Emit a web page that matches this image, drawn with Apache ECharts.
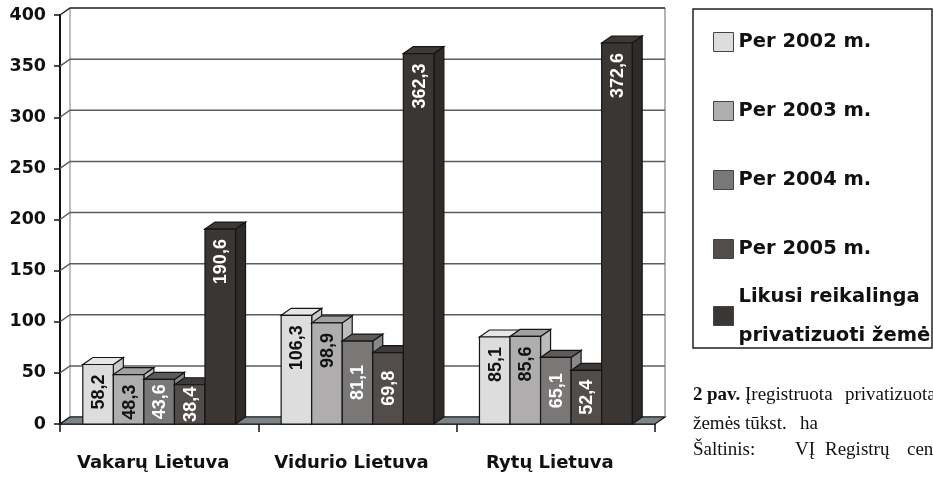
<!DOCTYPE html>
<html><head><meta charset="utf-8">
<script src="https://cdn.jsdelivr.net/npm/echarts@6.0.0/dist/echarts.min.js"></script>
<style>html,body{margin:0;padding:0;background:#fff}#c{width:933px;height:478px}</style>
</head><body><div id="c"></div>
<script>
const categories = ['Vakarų Lietuva', 'Vidurio Lietuva', 'Rytų Lietuva'];
const seriesNames = ['Per 2002 m.', 'Per 2003 m.', 'Per 2004 m.', 'Per 2005 m.', 'Likusi reikalinga\nprivatizuoti žemė'];
const per2002 = [58.2, 106.3, 85.1];
const per2003 = [48.3, 98.9, 85.6];
const per2004 = [43.6, 81.1, 65.1];
const per2005 = [38.4, 69.8, 52.4];
const likusi = [190.6, 362.3, 372.6];
const yTicks = [0, 50, 100, 150, 200, 250, 300, 350, 400];

const seriesValues = [per2002, per2003, per2004, per2005, likusi];
const DX = 10, DY = -7, CAT_GAP = 0.23;
const palette = [
  {front: '#dddddd', top: '#e6e6e6', side: '#c9c9c9', text: '#111111', mode: 'end'},
  {front: '#afadad', top: '#a2a0a0', side: '#bdbbbb', text: '#111111', mode: 'end'},
  {front: '#7a7777', top: '#5d5a5a', side: '#8a8787', text: '#ffffff', mode: 'center'},
  {front: '#524c4a', top: '#3e3a38', side: '#5e5856', text: '#ffffff', mode: 'center'},
  {front: '#3a3633', top: '#3d3936', side: '#2e2b29', text: '#ffffff', mode: 'end'}
];
const STROKE = '#151515';

function barRender(s) {
  const c = palette[s];
  return function (params, api) {
    const cat = api.value(0), v = api.value(1);
    const p = api.coord([cat, v]);
    const p0 = api.coord([cat, 0]);
    const band = api.size([1, 0])[0];
    const groupW = band * (1 - CAT_GAP);
    const w = groupW / seriesValues.length;
    const x = p[0] - groupW / 2 + s * w;
    const top = p[1], bot = p0[1];
    const txt = String(v).replace('.', ',');
    let ty, align;
    if (c.mode === 'end') { ty = top + 10; align = 'right'; }
    else { ty = (top + bot) / 2; align = 'center'; }
    return {
      type: 'group',
      children: [
        {type: 'polygon', shape: {points: [[x + w, top], [x + w + DX, top + DY], [x + w + DX, bot + DY], [x + w, bot]]},
          style: {fill: c.side, stroke: STROKE, lineWidth: 1.2}},
        {type: 'polygon', shape: {points: [[x, top], [x + DX, top + DY], [x + w + DX, top + DY], [x + w, top]]},
          style: {fill: c.top, stroke: STROKE, lineWidth: 1.2}},
        {type: 'rect', shape: {x: x, y: top, width: w, height: bot - top},
          style: {fill: c.front, stroke: STROKE, lineWidth: 1.2}},
        {type: 'text', x: x + w / 2 + 1, y: ty, rotation: Math.PI / 2,
          style: {text: txt, fill: c.text, font: 'bold 18px "Liberation Sans", Arial, sans-serif',
            align: align, verticalAlign: 'middle'}}
      ]
    };
  };
}

const series = [];
series.push({
  type: 'custom', name: 'walls', silent: true, z: 1,
  data: yTicks.map(v => [0, v]),
  renderItem: function (params, api) {
    const cs = params.coordSys;
    const v = api.value(1);
    const y = api.coord([0, v])[1];
    const x0 = cs.x, x1 = cs.x + cs.width;
    const children = [{type: 'polyline', shape: {points: [[x0, y], [x0 + DX, y + DY], [x1 + DX, y + DY]]},
      style: {stroke: v === yTicks[yTicks.length - 1] ? '#222222' : '#5c5c5c', lineWidth: 1.5, fill: null}}];
    if (params.dataIndex === 0) {
      const yt = api.coord([0, yTicks[yTicks.length - 1]])[1];
      children.push({type: 'line', shape: {x1: x0 + DX, y1: yt + DY, x2: x0 + DX, y2: y + DY}, style: {stroke: '#a9a9a9', lineWidth: 1.5}});
      children.push({type: 'line', shape: {x1: x1 + DX, y1: yt + DY, x2: x1 + DX, y2: y + DY}, style: {stroke: '#9a9a9a', lineWidth: 1.5}});
    }
    return {type: 'group', children: children};
  }
});
series.push({
  type: 'custom', name: 'floor', silent: true, z: 1,
  data: [[0, 0]],
  renderItem: function (params, api) {
    const cs = params.coordSys;
    const y = api.coord([0, 0])[1];
    const x0 = cs.x, x1 = cs.x + cs.width;
    return {type: 'polygon', shape: {points: [[x0, y], [x1, y], [x1 + DX, y + DY], [x0 + DX, y + DY]]},
      style: {fill: '#7c8488', stroke: STROKE, lineWidth: 1.2}};
  }
});
seriesValues.forEach((vals, s) => {
  series.push({
    type: 'custom', name: seriesNames[s], z: 2,
    itemStyle: {color: palette[s].front},
    data: vals.map((v, i) => [i, v]),
    renderItem: barRender(s)
  });
});

const legendText = {fontFamily: '"DejaVu Sans", sans-serif', fontWeight: 'bold', fontSize: 19.5, color: '#111111'};
const serifFont = '19px "Liberation Serif", "Times New Roman", serif';
const capWords = [
  ['2', 693, 395, true], ['pav.', 707, 395, true], ['Įregistruota', 745, 395, false], ['privatizuota', 845, 395, false],
  ['žemės', 693, 424, false], ['tūkst.', 745, 424, false], ['ha', 800, 424, false],
  ['Šaltinis:', 693, 450, false], ['VĮ', 795, 450, false], ['Registrų', 825, 450, false], ['centras', 907, 450, false]
];

const chart = echarts.init(document.getElementById('c'), null, {renderer: 'canvas'});
chart.setOption({
  animation: false,
  backgroundColor: '#ffffff',
  grid: {left: 60, right: 278, top: 15, bottom: 54},
  xAxis: {
    type: 'category', data: categories,
    axisLine: {show: true, lineStyle: {color: '#111111', width: 1.5}},
    axisTick: {show: true, length: 8, lineStyle: {color: '#111111', width: 1.5}},
    axisLabel: {interval: 0, hideOverlap: false, margin: 30, padding: [0, 12, 0, 0], color: '#111111', fontFamily: '"DejaVu Sans", sans-serif', fontWeight: 'bold', fontSize: 18},
    splitLine: {show: false}
  },
  yAxis: {
    type: 'value', min: 0, max: 400, interval: 50,
    axisLine: {show: true, lineStyle: {color: '#111111', width: 2}},
    axisTick: {show: true, length: 6, lineStyle: {color: '#111111', width: 1.5}},
    axisLabel: {margin: 14, padding: [8, 0, 0, 0], color: '#111111', fontFamily: '"DejaVu Sans", sans-serif', fontWeight: 'bold', fontSize: 17.5,
      formatter: v => yTicks.indexOf(v) >= 0 ? String(v) : ''},
    splitLine: {show: false}
  },
  legend: [
    {data: seriesNames.slice(0, 4), orient: 'vertical', left: 708, top: 27, itemWidth: 20, itemHeight: 19, itemGap: 49,
      icon: 'rect', selectedMode: false, itemStyle: {borderColor: '#444444', borderWidth: 1},
      textStyle: Object.assign({lineHeight: 20}, legendText)},
    {data: seriesNames.slice(4), orient: 'vertical', left: 708, top: 272, itemWidth: 20, itemHeight: 19,
      icon: 'rect', selectedMode: false, itemStyle: {borderColor: '#444444', borderWidth: 1},
      textStyle: Object.assign({lineHeight: 39}, legendText)}
  ],
  graphic: [
    {type: 'rect', shape: {x: 693, y: 9, width: 239, height: 339}, style: {fill: null, stroke: '#222222', lineWidth: 1.5}, z: -1}
  ].concat(capWords.map(w => ({
    type: 'text', x: w[1], y: w[2],
    style: {text: w[0], fill: '#111111', font: (w[3] ? 'bold ' : '') + serifFont, align: 'left', verticalAlign: 'middle'}
  }))),
  series: series
});
</script>
</body></html>
